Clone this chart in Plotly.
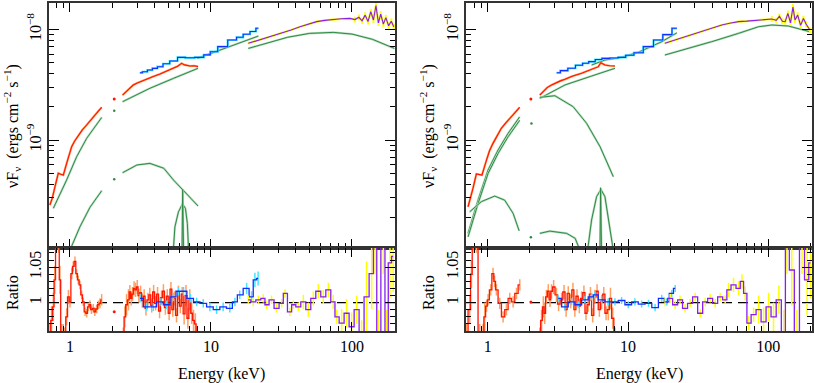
import numpy as np
import plotly.graph_objects as go

# ---------------- data (flux in units of 1e-9 ergs cm^-2 s^-1) ----------------
# left panel: spectra
red_l_e = [0.72, 0.75, 0.783, 0.826, 0.86, 0.897, 0.947, 0.99, 1.028, 1.08, 1.146, 1.22, 1.313, 1.4, 1.504, 1.59, 1.68, None,
           2.36, 2.5, 2.65, 2.81, 3.0, 3.2, 3.5, 3.9, 4.35, 4.8, 5.42, 5.8, 6.19, 6.5, 7.1, 7.6, 8.1]
red_l_f = [0.258, 0.30, 0.378, 0.500, 0.49, 0.482, 0.615, 0.76, 0.871, 0.98, 1.109, 1.23, 1.368, 1.52, 1.683, 1.83, 1.977, None,
           2.553, 2.75, 2.98, 3.148, 3.28, 3.40, 3.540, 3.75, 3.954, 4.2, 4.457, 4.65, 4.943, 4.786, 4.677, 4.70, 4.613]
red_l_dot_e = [2.06]
red_l_dot_f = [2.35]
blue_l_e = [3.13, 3.4, 3.69, 4.0, 4.35, 4.8, 5.42, 6.19, 7.0, 8.4, 9.4, 10.4, 12.0, 14.4, 16.0, 17.9, 20.0, 21.7]
blue_l_f = [4.06, 4.15, 4.30, 4.45, 4.61, 4.9, 5.19, 5.60, 5.55, 5.60, 5.9, 6.30, 7.0, 8.04, 8.5, 9.06, 9.6, 10.26]
purple_l_e = [18.4, 21, 24.7, 28, 32.5, 37, 42.8, 49, 56.2, 64, 73.7, 84, 96.7, 105, 112, 118, 124, 130, 136, 142,
              148, 154, 160, 167, 174, 182, 190, 198]
purple_l_f = [7.50, 7.9, 8.32, 8.8, 9.35, 9.9, 10.59, 11.2, 11.78, 12.1, 12.36, 12.5, 12.62, 12.3, 12.9, 12.0, 13.5, 11.8,
              14.5, 12.2, 16.5, 11.5, 13.8, 11.2, 12.8, 10.8, 11.9, 10.6]
purple_l_ferr = [0.01] * 13 + [0.06] * 15

# left panel: model components
cont_l_e = [0.762, 0.947, 1.115, 1.313, 1.68, None, 2.36, 3.69, 5.42, 8.1]
cont_l_f = [0.241, 0.435, 0.706, 1.035, 1.603, None, 2.223, 2.938, 3.614, 4.457]
cont_l_dot_e = [2.06]
cont_l_dot_f = [1.841]
cont2_l_e = [8.0, 14.4, 21.7]
cont2_l_f = [5.483, 7.244, 8.730]
cont3_l_e = [18.4, 25, 35, 50, 73.7, 100, 140, 200]
cont3_l_f = [6.745, 7.499, 8.511, 9.226, 9.419, 9.099, 8.147, 6.745]
bb_l_e = [0.95, 1.0, 1.177, 1.386, 1.68, None, 2.36, 2.98, 3.69, 4.63, 5.42, 6.49, 8.1]
bb_l_f = [0.08, 0.101, 0.164, 0.246, 0.348, None, 0.506, 0.594, 0.615, 0.555, 0.435, 0.340, 0.253]
bb_l_dot_e = [2.06]
bb_l_dot_f = [0.441]
gau_l_e = [5.34, 5.55, 5.88, 6.28, 6.59, 6.8, 7.0]
gau_l_f = [0.079, 0.164, 0.224, 0.264, 0.241, 0.176, 0.079]
line_l_e = [6.22, 6.3, 6.42]
line_l_f = [0.07, 0.358, 0.07]

# right panel: spectra
red_r_e = [0.724, 0.75, 0.785, 0.83, 0.87, 0.91, 0.98, 1.03, 1.09, 1.17, 1.25, 1.34, 1.44, 1.56, 1.69, None,
           2.35, 2.5, 2.65, 2.85, 3.1, 3.3, 3.55, 4.0, 4.67, 5.3, 5.8, 6.15, 6.4, 6.85, 7.4, 8.07]
red_r_f = [0.249, 0.29, 0.366, 0.493, 0.49, 0.482, 0.659, 0.80, 0.933, 1.10, 1.276, 1.42, 1.570, 1.76, 1.977, None,
           2.553, 2.78, 2.98, 3.148, 3.32, 3.43, 3.540, 3.78, 4.018, 4.3, 4.45, 4.613, 5.012, 4.775, 4.70, 4.677]
red_r_dot_e = [2.03]
red_r_dot_f = [2.35]
blue_r_e = [3.1, 3.5, 3.96, 4.5, 5.0, 5.5, 6.2, 6.85, 8.0, 9.0, 10.3, 11.8, 14.0, 16.5, 19.0, 22.3]
blue_r_f = [4.06, 4.25, 4.46, 4.75, 4.95, 5.12, 5.35, 5.48, 5.52, 5.60, 5.85, 6.17, 7.0, 8.04, 9.0, 10.26]
purple_r_e = [18.3, 22, 26.9, 31, 35.5, 40, 46.6, 53, 61.3, 70, 80.6, 92, 106, 114, 120, 126, 132, 138, 144, 150,
              155, 162, 170, 178, 186, 198]
purple_r_f = [7.50, 8.1, 8.73, 9.3, 9.89, 10.4, 10.99, 11.4, 11.78, 11.9, 12.02, 12.2, 12.45, 12.1, 13.2, 11.9, 11.78,
              14.0, 11.5, 16.0, 12.2, 13.5, 10.9, 12.6, 11.2, 9.89]
purple_r_ferr = [0.01] * 12 + [0.06] * 14

# right panel: model components
soft_r_e = [0.724, 0.853, 1.006, 1.185, 1.397, 1.69]
soft_r_f = [0.143, 0.286, 0.536, 0.813, 1.151, 1.622]
soft2_r_f = [0.133, 0.266, 0.499, 0.756, 1.070, 1.509]
soft_r_dot_e = [2.05]
soft_r_dot_f = [1.413]
cont_r_e = [2.35, 3.55, 5.5, 8.07]
cont_r_f = [2.382, 3.148, 3.793, 4.457]
cont2_r_e = [5.5, 6.85, 9.0, 11.8, 17.4, 22.3]
cont2_r_f = [4.775, 5.297, 5.598, 6.209, 7.762, 9.333]
cont3_r_e = [18.3, 26.9, 39.5, 61.3, 85, 106, 139, 198]
cont3_r_f = [5.875, 6.745, 7.762, 9.226, 10.59, 10.99, 10.76, 9.550]
bump_r_e = [0.744, 0.90, 1.122, 1.32, 1.517, 1.675]
bump_r_f = [0.224, 0.277, 0.311, 0.286, 0.217, 0.151]
bb_r_e = [2.35, 2.77, 3.01, 4.06, 5.07, 6.32, 7.86]
bb_r_f = [2.432, 2.500, 2.518, 2.004, 1.416, 0.871, 0.466]
bb2_r_e = [2.35, 2.77, 3.65, 4.2, 4.54, 4.9]
bb2_r_f = [0.143, 0.150, 0.143, 0.129, 0.101, 0.079]
bb2_r_dot_e = [2.03]
bb2_r_dot_f = [0.132]
gau_r_e = [5.15, 5.5, 5.97, 6.41, 6.85, 7.3, 7.86]
gau_r_f = [0.1, 0.189, 0.307, 0.358, 0.307, 0.189, 0.1]
line_r_e = [6.3, 6.38, 6.5]
line_r_f = [0.07, 0.37, 0.07]

# ratios, left
rr_l_e = [0.721, 0.74, 0.762, 0.78, 0.80, 0.83, 0.849, 0.87, 0.896, 0.92, 0.947, 0.975, 1.0, 1.03, 1.055, 1.085,
          1.115, 1.145, 1.177, 1.21, 1.243, 1.28, 1.313, 1.35, 1.386, 1.42, 1.463, 1.5, 1.546, 1.59, 1.632, 1.678, None,
          2.39, 2.45, 2.52, 2.6, 2.66, 2.72, 2.78, 2.85, 2.92, 3.0, 3.08, 3.17, 3.26, 3.36, 3.46, 3.57, 3.68, 3.8,
          3.92, 4.05, 4.18, 4.32, 4.46, 4.6, 4.75, 4.9, 5.05, 5.2, 5.36, 5.52, 5.7, 5.88, 6.06, 6.25, 6.45, 6.65,
          6.86, 7.08, 7.3, 7.52, 7.75, 7.95]
rr_l = [0.95, 0.975, 0.994, 1.032, 1.09, 1.09, 1.032, 0.95, 0.95, 0.95, 0.980, 1.008, 1.001, 1.041, 1.051, 1.058,
        1.041, 1.032, 1.025, 1.011, 1.001, 0.987, 0.985, 0.994, 0.997, 0.990, 0.992, 0.987, 0.991, 0.997, 0.999, 1.004, None,
        0.95, 0.98, 0.997, 1.004, 1.015, 1.006, 1.012, 1.02, 1.018, 1.022, 1.01, 1.014, 1.003, 1.009, 0.992, 1.004,
        1.011, 0.996, 1.015, 0.999, 1.012, 0.988, 1.007, 1.016, 0.993, 1.009, 0.985, 1.019, 0.99, 1.006, 0.982, 1.014,
        0.995, 1.012, 0.984, 1.01, 0.978, 1.004, 0.985, 0.975, 0.97, 0.95]
rr_l_err = [0.02] * 9 + [0.015, 0.012, 0.01, 0.008, 0.008, 0.007, 0.007] + [0.006] * 14 + [0.007, 0.008, 0] + \
           [0.015] * 4 + [0.01] * 30 + [0.015] * 8
rr_l_dot_e = [2.06]
rr_l_dot = [0.987]
rb_l_e = [3.14, 3.5, 3.9, 4.35, 4.85, 5.42, 5.88, 6.39, 7.13, 7.92, 8.82, 9.83, 10.96, 12.2, 13.6, 14.8, 16.0, 17.9,
          19.4, 20.5, 21.6]
rb_l = [1.006, 0.994, 0.994, 1.001, 0.997, 1.008, 1.016, 1.016, 1.006, 1.001, 0.999, 0.994, 0.990, 0.994, 0.992,
        1.001, 1.011, 1.020, 1.008, 1.032, 1.034]
rb_l_err = [0.006] * 17 + [0.008, 0.008, 0.01, 0.01]
rp_l_e = [18.4, 19.96, 21.7, 23.5, 24.8, 26.9, 29.2, 31.7, 33.5, 36.3, 38.4, 41.6, 45.2, 49.0, 53.2, 57.7, 62.6, 68.0,
          73.7, 77.9, 84.5, 91.6, 99.5, 108, 117, 127, 138, 146, 154, 167, 176, 186, 196]
rp_l = [1.004, 1.001, 1.004, 1.006, 0.997, 1.004, 0.992, 0.999, 1.013, 0.987, 0.997, 0.994, 1.001, 0.990, 1.006,
        1.016, 1.008, 1.018, 1.001, 0.980, 0.971, 0.985, 0.966, 0.990, 0.955, 1.008, 1.041, 1.09, 0.94, 1.09, 0.94,
        1.056, 1.065]
rp_l_err = [0.006] * 12 + [0.01] * 8 + [0.02] * 5 + [0.05] * 8

# ratios, right
rr_r_e = [0.705, 0.744, 0.765, 0.785, 0.83, 0.877, 0.926, 0.952, 0.98, 1.006, 1.05, 1.091, 1.12, 1.153, 1.218,
          1.287, 1.359, 1.436, 1.517, 1.603, 1.693, None,
          2.35, 2.42, 2.49, 2.55, 2.62, 2.7, 2.78, 2.85, 2.95, 3.09, 3.2, 3.36, 3.5, 3.62, 3.75, 3.9, 4.05, 4.18,
          4.33, 4.5, 4.67, 4.85, 5.02, 5.2, 5.4, 5.6, 5.81, 6.02, 6.25, 6.49, 6.72, 6.98, 7.24, 7.5, 7.78, 8.07]
rr_r = [0.95, 0.990, 1.04, 1.09, 1.09, 0.95, 0.95, 0.980, 0.995, 1.004, 1.018, 1.041, 1.03, 1.018, 0.999, 0.980,
        0.990, 1.006, 1.001, 1.013, 1.025, None,
        0.95, 0.975, 0.994, 0.985, 1.008, 1.016, 1.004, 1.016, 1.022, 1.011, 0.998, 1.004, 1.015, 0.99, 1.013,
        1.002, 1.018, 0.990, 1.009, 0.995, 1.006, 1.014, 0.985, 0.997, 1.012, 0.982, 1.008, 1.016, 0.99, 1.001,
        1.012, 0.985, 0.990, 1.006, 0.978, 0.95]
rr_r_err = [0.02] * 8 + [0.008] * 13 + [0] + [0.015] * 4 + [0.01] * 28 + [0.015] * 4
rr_r_dot_e = [2.03]
rr_r_dot = [1.001]
rb_r_e = [3.18, 3.55, 3.96, 4.42, 4.93, 5.5, 5.81, 6.49, 7.24, 8.07, 9.0, 10.05, 11.2, 12.5, 14.0, 15.6, 17.4,
          18.9, 20.5, 21.7]
rb_r = [1.006, 0.994, 1.001, 0.997, 1.004, 1.008, 1.011, 1.004, 1.001, 1.001, 1.003, 0.997, 1.001, 0.998, 0.999,
        0.993, 1.006, 1.001, 1.013, 1.020]
rb_r_err = [0.005] * 20
rp_r_e = [18.4, 19.95, 21.7, 23.5, 25.5, 27.7, 30.1, 32.7, 35.5, 38.5, 41.8, 45.4, 49.3, 52.1, 56.5, 61.4, 64.9,
          68.5, 72.4, 78.6, 85.3, 92.6, 100.5, 109, 119, 129, 136, 147, 160, 174, 189, 200]
rp_r = [1.001, 1.006, 0.997, 1.004, 0.992, 0.999, 1.008, 0.985, 1.001, 1.006, 0.999, 1.008, 1.004, 1.018, 1.025,
        1.020, 1.030, 1.013, 0.971, 0.983, 0.990, 0.973, 0.994, 0.980, 1.004, 0.94, 1.09, 1.046, 0.94, 1.09,
        1.032, 1.056]
rp_r_err = [0.006] * 13 + [0.01] * 7 + [0.02] * 5 + [0.05] * 7

# ---------------- styling ----------------
RED, ORANGE = "#ff1500", "#ffa060"
BLUE, CYAN = "#1030ff", "#40e8ff"
PURPLE, YELLOW = "#8a1cf0", "#ffff00"
GREEN, LGREEN = "#2f8a46", "#b5dcbc"
FONT = "Liberation Serif, Times New Roman, Times, serif"
W, H = 814, 383


def scaled(vals):
    return [None if v is None else v * 1e-9 for v in vals]


def add_green(fig, e, f, xa, ya, dots=False):
    fy = scaled(f)
    if dots:
        fig.add_trace(go.Scatter(x=e, y=fy, mode="markers", xaxis=xa, yaxis=ya,
                                 marker=dict(color=GREEN, size=2.5), showlegend=False))
        return
    fig.add_trace(go.Scatter(x=e, y=fy, mode="lines", xaxis=xa, yaxis=ya, line=dict(color=LGREEN, width=2.2),
                             showlegend=False, hoverinfo="skip"))
    fig.add_trace(go.Scatter(x=e, y=fy, mode="lines", xaxis=xa, yaxis=ya, line=dict(color=GREEN, width=1),
                             showlegend=False))


def add_spec(fig, e, f, col, halo, xa, ya, ferr=None, shape="linear"):
    fy = scaled(f)
    err = None
    if ferr is not None:
        err = dict(type="data", array=[v * r for v, r in zip(fy, ferr)], color=halo, thickness=2, width=0)
    fig.add_trace(go.Scatter(x=e, y=fy, mode="lines", xaxis=xa, yaxis=ya, line=dict(color=halo, width=2.2, shape=shape),
                             error_y=err, showlegend=False, hoverinfo="skip"))
    fig.add_trace(go.Scatter(x=e, y=fy, mode="lines", xaxis=xa, yaxis=ya, line=dict(color=col, width=1.1, shape=shape),
                             showlegend=False))


def add_dot(fig, e, f, col, xa, ya):
    fig.add_trace(go.Scatter(x=e, y=scaled(f), mode="markers", xaxis=xa, yaxis=ya,
                             marker=dict(color=col, size=3), showlegend=False))


def add_ratio(fig, e, r, err, col, halo, xa, ya):
    fig.add_trace(go.Scatter(x=e, y=r, mode="lines", xaxis=xa, yaxis=ya,
                             line=dict(color=col, width=1.3, shape="hvh"),
                             error_y=dict(type="data", array=err, color=halo, thickness=1.5, width=0),
                             showlegend=False))


fig = go.Figure()

# dashed unity lines in ratio panels
for xa, ya, e0, e1 in [("x2", "y2", 0.71, 202), ("x4", "y4", 0.70, 205)]:
    fig.add_trace(go.Scatter(x=[e0, e1], y=[1, 1], mode="lines", xaxis=xa, yaxis=ya,
                             line=dict(color="black", width=1.2, dash="10px,6px"), showlegend=False))

# left panel
add_green(fig, cont_l_e, cont_l_f, "x", "y")
add_green(fig, cont_l_dot_e, cont_l_dot_f, "x", "y", dots=True)
add_green(fig, cont2_l_e, cont2_l_f, "x", "y")
add_green(fig, cont3_l_e, cont3_l_f, "x", "y")
add_green(fig, bb_l_e, bb_l_f, "x", "y")
add_green(fig, bb_l_dot_e, bb_l_dot_f, "x", "y", dots=True)
add_green(fig, gau_l_e, gau_l_f, "x", "y")
add_green(fig, line_l_e, line_l_f, "x", "y")
add_spec(fig, red_l_e, red_l_f, RED, ORANGE, "x", "y")
add_dot(fig, red_l_dot_e, red_l_dot_f, RED, "x", "y")
add_spec(fig, blue_l_e, blue_l_f, BLUE, CYAN, "x", "y", shape="hvh")
add_spec(fig, purple_l_e, purple_l_f, PURPLE, YELLOW, "x", "y", purple_l_ferr)

add_ratio(fig, rr_l_e, rr_l, rr_l_err, RED, ORANGE, "x2", "y2")
add_dot(fig, rr_l_dot_e, [v * 1e9 for v in rr_l_dot], RED, "x2", "y2")
add_ratio(fig, rb_l_e, rb_l, rb_l_err, BLUE, CYAN, "x2", "y2")
add_ratio(fig, rp_l_e, rp_l, rp_l_err, PURPLE, YELLOW, "x2", "y2")

# right panel
add_green(fig, soft_r_e, soft_r_f, "x3", "y3")
add_green(fig, soft_r_e, soft2_r_f, "x3", "y3")
add_green(fig, soft_r_dot_e, soft_r_dot_f, "x3", "y3", dots=True)
add_green(fig, cont_r_e, cont_r_f, "x3", "y3")
add_green(fig, cont2_r_e, cont2_r_f, "x3", "y3")
add_green(fig, cont3_r_e, cont3_r_f, "x3", "y3")
add_green(fig, bump_r_e, bump_r_f, "x3", "y3")
add_green(fig, bb_r_e, bb_r_f, "x3", "y3")
add_green(fig, bb2_r_e, bb2_r_f, "x3", "y3")
add_green(fig, bb2_r_dot_e, bb2_r_dot_f, "x3", "y3", dots=True)
add_green(fig, gau_r_e, gau_r_f, "x3", "y3")
add_green(fig, line_r_e, line_r_f, "x3", "y3")
add_spec(fig, red_r_e, red_r_f, RED, ORANGE, "x3", "y3")
add_dot(fig, red_r_dot_e, red_r_dot_f, RED, "x3", "y3")
add_spec(fig, blue_r_e, blue_r_f, BLUE, CYAN, "x3", "y3", shape="hvh")
add_spec(fig, purple_r_e, purple_r_f, PURPLE, YELLOW, "x3", "y3", purple_r_ferr)

add_ratio(fig, rr_r_e, rr_r, rr_r_err, RED, ORANGE, "x4", "y4")
add_dot(fig, rr_r_dot_e, [v * 1e9 for v in rr_r_dot], RED, "x4", "y4")
add_ratio(fig, rb_r_e, rb_r, rb_r_err, BLUE, CYAN, "x4", "y4")
add_ratio(fig, rp_r_e, rp_r, rp_r_err, PURPLE, YELLOW, "x4", "y4")

# ---------------- axes ----------------
decades = [1, 10, 100]
x_minor = [m * d for d in [0.1, 1, 10, 100] for m in range(2, 10)]
y_minor = [m * d for d in [1e-10, 1e-9, 1e-8] for m in range(2, 10)]
r_minor = [0.97, 0.98, 0.99, 1.01, 1.02, 1.03, 1.04, 1.06, 1.07]

tickfont = dict(family=FONT, size=16, color="black")
common = dict(showgrid=False, zeroline=False, showline=True, linecolor="#333", linewidth=1.5, automargin=False,
              ticks="inside", tickcolor="black", tickwidth=1.3, mirror="allticks", tickfont=tickfont)


def xax(domain, anchor, rng, labels):
    return dict(common, type="log", domain=domain, anchor=anchor, range=[np.log10(rng[0]), np.log10(rng[1])],
                tickmode="array", tickvals=decades, ticktext=["1", "10", "100"], showticklabels=labels,
                ticklen=9, minor=dict(tickmode="array", tickvals=x_minor, ticks="inside", ticklen=5,
                                      tickcolor="black", tickwidth=1.2))


def yflux(domain, anchor):
    return dict(common, type="log", domain=domain, anchor=anchor, range=[-9.977, -7.76],
                tickmode="array", tickvals=[1e-9, 1e-8], ticktext=["10<sup>−9</sup>", "10<sup>−8</sup>"],
                tickangle=-90, ticklen=10,
                minor=dict(tickmode="array", tickvals=y_minor, ticks="inside", ticklen=5,
                           tickcolor="black", tickwidth=1.2))


def yratio(domain, anchor):
    return dict(common, domain=domain, anchor=anchor, range=[0.960, 1.077],
                tickmode="array", tickvals=[1, 1.05], ticktext=["1", "1.05"], tickangle=-90, ticklen=10,
                minor=dict(tickmode="array", tickvals=r_minor, ticks="inside", ticklen=5,
                           tickcolor="black", tickwidth=1.2))


xl = [49 / W, 395 / W]
xr = [466 / W, 812 / W]
ytop = [1 - 248 / H, 1 - 3 / H]
ybot = [1 - 331 / H, 1 - 248 / H]

lab = dict(xref="paper", yref="paper", showarrow=False, xanchor="center", yanchor="middle",
           font=dict(family=FONT, size=16, color="black"))
ann = []
for xc, px in [(xl, 12), (xr, 428)]:
    ann.append(dict(lab, text="νF<sub>ν</sub>  (ergs cm<sup>−2</sup> s<sup>−1</sup>)", x=px / W, y=1 - 126 / H,
                    textangle=-90))
    ann.append(dict(lab, text="Ratio", x=px / W, y=1 - 293 / H, textangle=-90))
    ann.append(dict(lab, text="Energy (keV)", x=(xc[0] + xc[1]) / 2, y=1 - 374 / H))

fig.update_layout(
    width=W, height=H, margin=dict(l=0, r=0, t=0, b=0, autoexpand=False),
    paper_bgcolor="white", plot_bgcolor="white", showlegend=False,
    font=dict(family=FONT),
    xaxis=xax(xl, "y", (0.71, 202), False),
    yaxis=yflux(ytop, "x"),
    xaxis2=xax(xl, "y2", (0.71, 202), True),
    yaxis2=yratio(ybot, "x2"),
    xaxis3=xax(xr, "y3", (0.70, 205), False),
    yaxis3=yflux(ytop, "x3"),
    xaxis4=xax(xr, "y4", (0.70, 205), True),
    yaxis4=yratio(ybot, "x4"),
    annotations=ann,
)

# the page body has a default 8px margin; drop it so the figure sits at the window's corner
fig.write_html("out.html", config={"displayModeBar": False},
               post_script="document.body.style.margin='0';document.body.style.overflow='hidden';")
